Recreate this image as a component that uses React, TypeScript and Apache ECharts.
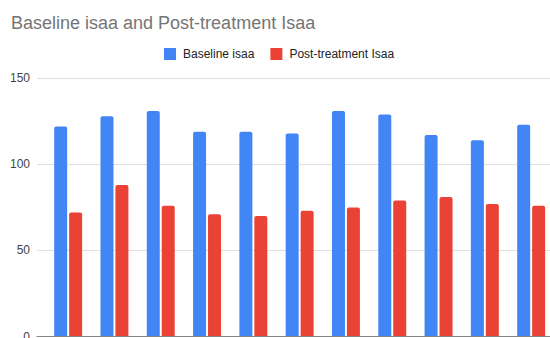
import React, { useEffect, useRef } from "react";
import * as echarts from "echarts";

const categories = ["1", "2", "3", "4", "5", "6", "7", "8", "9", "10", "11"];
const baselineIsaa = [122, 128, 131, 119, 119, 118, 131, 129, 117, 114, 123];
const postTreatmentIsaa = [72, 88, 76, 71, 70, 73, 75, 79, 81, 77, 76];
const yTicks = [0, 50, 100, 150];

const FONT = "Arial, 'Liberation Sans', sans-serif";

export default function App() {
  const ref = useRef<HTMLDivElement>(null);
  useEffect(() => {
    if (!ref.current) return;
    const chart = echarts.init(ref.current, undefined, { renderer: "svg" });
    const top = 78.3;
    const bottom = 1.5;
    chart.setOption({
      animation: false,
      backgroundColor: "#ffffff",
      title: {
        text: "Baseline isaa and Post-treatment Isaa",
        left: 11,
        top: 14,
        padding: 0,
        textStyle: { color: "#757575", fontSize: 18, fontWeight: "normal", fontFamily: FONT },
      },
      legend: {
        left: 164,
        top: 48,
        padding: 0,
        itemWidth: 12,
        itemHeight: 12,
        itemGap: 16,
        icon: "rect",
        textStyle: { color: "#222", fontSize: 12, fontFamily: FONT, padding: [0, 0, 0, 2] },
        data: ["Baseline isaa", "Post-treatment Isaa"],
      },
      grid: [
        { left: 45, right: -4.3, top, bottom, outerBoundsMode: "none", containLabel: false },
        { left: 37, right: 0, top, bottom, outerBoundsMode: "none", containLabel: false },
      ],
      xAxis: [
        {
          type: "category",
          gridIndex: 0,
          data: categories,
          axisLine: { show: false },
          axisTick: { show: false },
          axisLabel: { show: false },
        },
        {
          type: "category",
          gridIndex: 1,
          data: ["a"],
          axisLine: { show: true, lineStyle: { color: "#888", width: 1 } },
          axisTick: { show: false },
          axisLabel: { show: false },
          z: 5,
        },
      ],
      yAxis: [
        {
          type: "value",
          gridIndex: 0,
          min: 0,
          max: 150,
          interval: 50,
          axisLine: { show: false },
          axisTick: { show: false },
          axisLabel: { show: false },
          splitLine: { show: false },
        },
        {
          type: "value",
          gridIndex: 1,
          min: yTicks[0],
          max: yTicks[yTicks.length - 1],
          interval: yTicks[1] - yTicks[0],
          axisLine: { show: false },
          axisTick: { show: false },
          axisLabel: { color: "#444", fontSize: 12, fontFamily: FONT, margin: 7 },
          splitLine: { lineStyle: { color: "#e0e0e0", width: 1 } },
        },
      ],
      series: [
        {
          name: "Baseline isaa",
          type: "bar",
          xAxisIndex: 0,
          yAxisIndex: 0,
          data: baselineIsaa,
          barWidth: 13,
          barGap: "15%",
          itemStyle: { color: "#4285F4", borderRadius: [2, 2, 0, 0] },
          z: 3,
        },
        {
          name: "Post-treatment Isaa",
          type: "bar",
          xAxisIndex: 0,
          yAxisIndex: 0,
          data: postTreatmentIsaa,
          barWidth: 13,
          barGap: "15%",
          itemStyle: { color: "#EA4335", borderRadius: [2, 2, 0, 0] },
          z: 3,
        },
      ],
    });
    return () => chart.dispose();
  }, []);
  return (
    <div
      ref={ref}
      style={{ position: "fixed", left: 0, top: 0, width: 550, height: 338, background: "#fff" }}
    />
  );
}
